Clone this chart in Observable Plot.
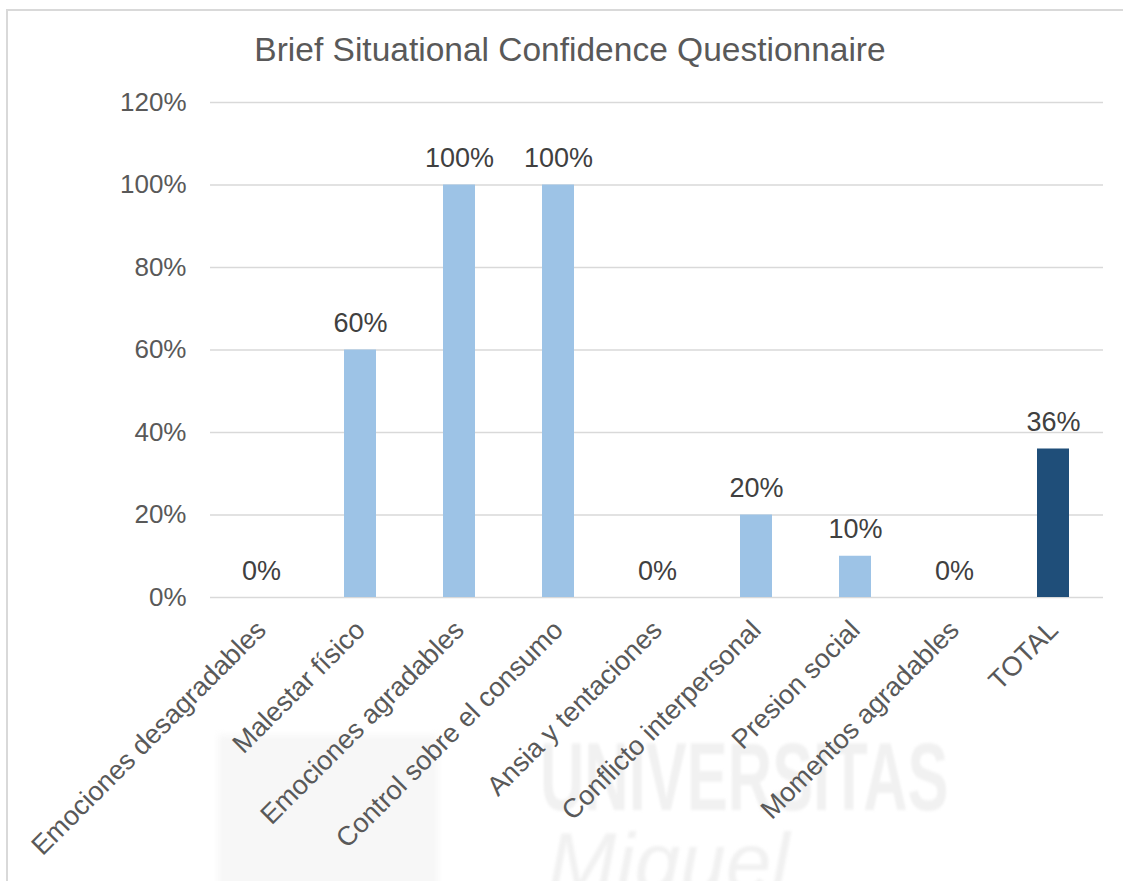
<!DOCTYPE html>
<html>
<head>
<meta charset="utf-8">
<script src="https://cdn.jsdelivr.net/npm/d3@7"></script>
<script src="https://cdn.jsdelivr.net/npm/@observablehq/plot@0.6"></script>
<style>
  html, body { margin: 0; padding: 0; background: #fff; overflow: hidden; }
  #wrap { position: relative; width: 1123px; height: 881px; overflow: hidden; font-family: "Liberation Sans", Arial, sans-serif; }
  #frame { position: absolute; left: 6px; top: 9px; width: 1300px; height: 1000px; border: 2px solid #d9d9d9; box-sizing: border-box; }
  #title { position: absolute; left: 0; top: 30px; width: 1140px; text-align: center; font-size: 33.5px; color: #595959; line-height: 40px; }
  #wm1 { position: absolute; left: 540px; top: 722px; font-size: 96px; font-weight: bold; color: #f1f1f1; transform-origin: 0 0; transform: scaleX(0.64); filter: blur(1.5px); white-space: nowrap; }
  #wm2 { position: absolute; left: 548px; top: 815px; font-size: 82px; font-style: italic; color: #f1f1f1; filter: blur(1.5px); white-space: nowrap; }
  #logo { position: absolute; left: 218px; top: 735px; width: 220px; height: 160px; background: #f7f7f7; filter: blur(3px); }
  #chart { position: absolute; left: 0; top: 80px; }
</style>
</head>
<body>
<div id="wrap">
  <div id="frame"></div>
  <div id="logo"></div>
  <div id="wm1">UNIVERSITAS</div>
  <div id="wm2">Miguel</div>
  <div id="title">Brief Situational Confidence Questionnaire</div>
  <div id="chart"></div>
</div>
<script>
const categories = [
  "Emociones desagradables",
  "Malestar físico",
  "Emociones agradables",
  "Control sobre el consumo",
  "Ansia y tentaciones",
  "Conflicto interpersonal",
  "Presion social",
  "Momentos agradables",
  "TOTAL"
];
const values = [0, 0.60, 1.00, 1.00, 0, 0.20, 0.10, 0, 0.36];
const yTicks = [0, 0.2, 0.4, 0.6, 0.8, 1.0, 1.2];

const data = categories.map((c, i) => ({category: c, value: values[i]}));
const pct = d3.format(".0%");

const chart = Plot.plot({
  width: 1123,
  height: 801,
  marginTop: 22,
  marginBottom: 284,
  marginLeft: 210,
  marginRight: 20,
  style: {fontFamily: '"Liberation Sans", Arial, sans-serif', background: "transparent", overflow: "visible"},
  x: {domain: categories, paddingInner: 0.68, paddingOuter: 0.34, label: null},
  y: {domain: [0, 1.2], ticks: yTicks, label: null},
  marks: [
    Plot.gridY(yTicks, {stroke: "#d9d9d9", strokeOpacity: 1, strokeWidth: 1.5}),
    Plot.axisY(yTicks, {tickSize: 0, tickPadding: 24, tickFormat: pct, fontSize: 26, fill: "#595959", label: null}),
    Plot.axisX({tickSize: 0, tickRotate: -45, tickPadding: 28, fontSize: 27, fill: "#595959", label: null}),
    Plot.barY(data, {x: "category", y: "value", fill: d => d.category === "TOTAL" ? "#1F4E79" : "#9DC3E6"}),
    Plot.text(data, {x: "category", y: "value", text: d => pct(d.value), lineAnchor: "bottom", dy: -18, fontSize: 27, fill: "#404040"})
  ]
});
document.getElementById("chart").appendChild(chart);
</script>
</body>
</html>
